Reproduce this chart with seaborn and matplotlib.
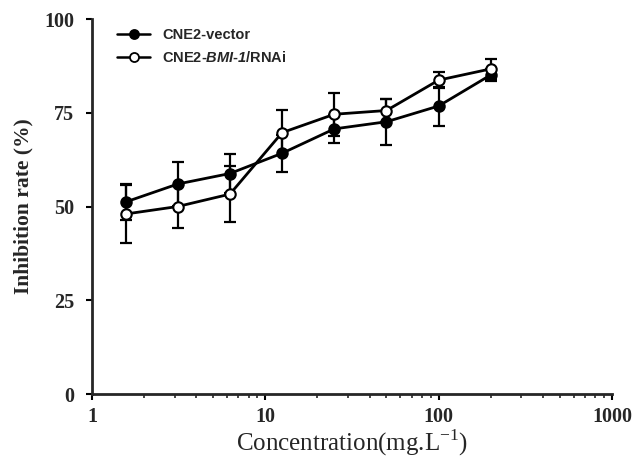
import matplotlib

matplotlib.use("Agg")

import matplotlib.pyplot as plt
import numpy as np
import pandas as pd
import seaborn as sns
from matplotlib.lines import Line2D
from matplotlib.ticker import FixedLocator, LogLocator, NullFormatter


concentration = [1.5625, 3.125, 6.25, 12.5, 25, 50, 100, 200]
vector_mean = [51.2, 56.0, 58.8, 64.2, 70.7, 72.6, 76.8, 85.1]
vector_err = [4.7, 5.9, 5.1, 5.0, 3.8, 6.2, 5.2, 1.7]
rnai_mean = [48.0, 50.0, 53.3, 69.7, 74.6, 75.6, 83.7, 86.7]
rnai_err = [7.8, 5.6, 7.4, 6.0, 5.7, 3.1, 2.2, 2.7]
series_names = ["CNE2-vector", "CNE2-$\\mathsf{BMI}$-$\\mathsf{1}$/RNAi"]
y_ticks = [0, 25, 50, 75, 100]
x_ticks = [1, 10, 100, 1000]

sns.set_style("ticks")
plt.rcParams["font.family"] = ["Liberation Serif", "DejaVu Serif"]
plt.rcParams["mathtext.fontset"] = "custom"
plt.rcParams["mathtext.rm"] = "Liberation Serif"
plt.rcParams["mathtext.sf"] = "Liberation Sans:italic:bold"

data = pd.concat(
    [
        pd.DataFrame({"conc": concentration, "rate": vector_mean, "err": vector_err, "group": series_names[0]}),
        pd.DataFrame({"conc": concentration, "rate": rnai_mean, "err": rnai_err, "group": series_names[1]}),
    ],
    ignore_index=True,
)

fig = plt.figure(figsize=(6.33, 4.59), dpi=100)
ax = fig.add_axes([0.1453, 0.1416, 0.8215, 0.8170])

face = {series_names[0]: "black", series_names[1]: "white"}
for name in series_names:
    sub = data[data["group"] == name]
    ax.errorbar(sub["conc"], sub["rate"], yerr=sub["err"], fmt="none", ecolor="black",
                elinewidth=1.6, capsize=4, capthick=1.6, zorder=2)
    sns.lineplot(data=sub, x="conc", y="rate", ax=ax, color="black", linewidth=2,
                 marker="o", markersize=7.5, markerfacecolor=face[name],
                 markeredgecolor="black", markeredgewidth=1.5, zorder=3)

ax.set_xscale("log")
ax.set_xlim(1, 1000)
ax.set_ylim(0, 100)
ax.xaxis.set_major_locator(FixedLocator(x_ticks))
ax.set_xticklabels([str(t) for t in x_ticks])
ax.xaxis.set_minor_locator(LogLocator(base=10, subs=np.arange(2, 10)))
ax.xaxis.set_minor_formatter(NullFormatter())
ax.set_yticks(y_ticks)
ax.set_yticklabels([str(t) for t in y_ticks])

sns.despine(ax=ax)
for side in ["left", "bottom"]:
    ax.spines[side].set_linewidth(2)
ax.tick_params(axis="both", which="major", direction="out", length=4, width=1.5,
               labelsize=14.5, color="black")
ax.tick_params(axis="y", which="major", pad=9)
ax.tick_params(axis="x", which="major", pad=5)
ax.tick_params(axis="x", which="minor", direction="out", length=3, width=1.2)
for label in ax.get_xticklabels() + ax.get_yticklabels():
    label.set_fontweight("bold")

ax.set_xlabel("Concentration(mg.L$^{-1}$)", fontsize=18)
ax.xaxis.set_label_coords(0.5, -0.09)
ax.set_ylabel("Inhibition rate (%)", fontsize=15.5, fontweight="bold")
ax.yaxis.set_label_coords(-0.113, 0.5)

handles = [
    Line2D([], [], color="black", linewidth=1.8, marker="o", markersize=6.5,
           markerfacecolor=face[name], markeredgecolor="black", markeredgewidth=1.3)
    for name in series_names
]
ax.legend(handles, series_names, loc="upper left", bbox_to_anchor=(0.048, 0.975),
          frameon=False, handlelength=2.3, handletextpad=0.8, labelspacing=0.55,
          borderpad=0, borderaxespad=0,
          prop={"family": "Liberation Sans", "weight": "bold", "size": 10.5})

fig.savefig("out.png", dpi=100)
